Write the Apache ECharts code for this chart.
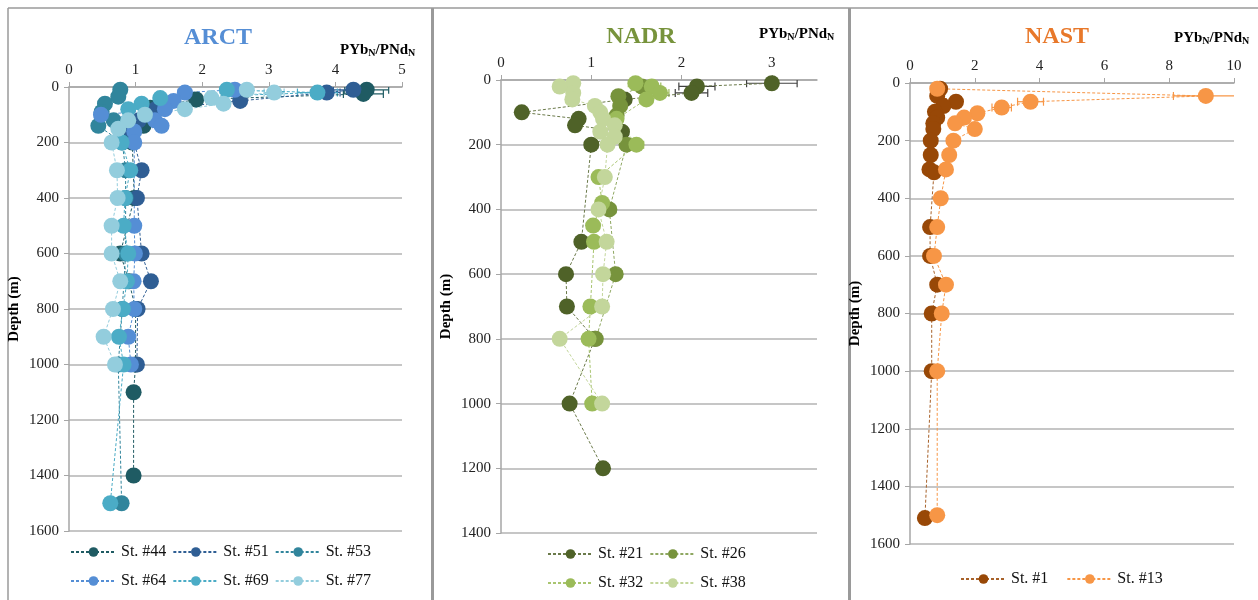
<!DOCTYPE html>
<html><head><meta charset="utf-8">
<script src="https://cdn.jsdelivr.net/npm/echarts@6/dist/echarts.min.js"></script>
<style>html,body{margin:0;padding:0;background:#fff}#c{width:1258px;height:600px}</style>
</head><body><div id="c"></div>
<script>
// ---------- ARCT ----------
const a44Depth = [10,25,45,75,140,200,400,600,700,800,1000,1100,1400];
const a44Val   = [4.47,4.42,1.91,1.22,1.12,0.95,0.98,0.77,0.9,1.0,1.0,0.97,0.97];
const a44Err   = [0.33,0.3,0.05,0,0,0,0,0,0,0,0,0,0];
const a51Depth = [10,20,50,80,120,165,300,400,600,700,800,1000];
const a51Val   = [4.27,3.87,2.57,1.3,1.05,0.94,1.09,1.02,1.09,1.23,1.03,1.02];
const a51Err   = [0.3,0.2,0,0,0,0,0,0,0,0,0,0];
const a53Depth = [10,35,60,90,120,140,200,300,400,600,800,1000,1500];
const a53Val   = [0.77,0.74,0.54,0.49,0.67,0.44,0.8,0.85,0.85,0.85,0.8,0.74,0.79];
const a53Err   = [0,0,0,0,0,0,0,0,0,0,0,0,0];
const a64Depth = [10,20,50,80,100,120,140,160,200,500,600,700,800,900,1000];
const a64Val   = [2.49,1.74,1.57,1.44,0.48,1.29,1.39,0.98,0.98,0.98,0.99,0.97,0.98,0.89,0.93];
const a64Err   = [0.15,0.1,0,0,0,0,0,0,0,0,0,0,0,0,0];
const a69Depth = [10,20,40,60,80,200,300,400,500,600,700,800,900,1000,1500];
const a69Val   = [2.37,3.73,1.37,1.09,0.89,0.79,0.92,0.84,0.82,0.89,0.87,0.81,0.75,0.82,0.62];
const a69Err   = [0.1,0.3,0,0,0,0,0,0,0,0,0,0,0,0,0];
const a77Depth = [10,20,40,60,80,100,120,150,200,300,400,500,600,700,800,900,1000];
const a77Val   = [2.67,3.08,2.14,2.32,1.74,1.14,0.89,0.74,0.64,0.72,0.73,0.64,0.64,0.77,0.66,0.52,0.69];
const a77Err   = [0.1,0.15,0,0,0,0,0,0,0,0,0,0,0,0,0,0,0];
// ---------- NADR ----------
const n21Depth = [10,20,40,60,100,120,140,160,200,500,600,700,800,1000,1200];
const n21Val   = [3.0,2.17,2.11,1.37,0.23,0.86,0.82,1.34,1.0,0.89,0.72,0.73,1.04,0.76,1.13];
const n21Err   = [0.28,0.2,0.18,0.06,0.03,0.04,0.04,0.07,0.07,0.05,0.03,0.03,0.05,0.05,0.07];
const n26Depth = [20,50,80,110,200,400,600,800];
const n26Val   = [1.56,1.3,1.32,1.28,1.39,1.2,1.27,1.05];
const n26Err   = [0.08,0.06,0.06,0.06,0.06,0.07,0.07,0.05];
const n32Depth = [10,20,40,60,120,200,300,380,450,500,700,800,1000];
const n32Val   = [1.49,1.67,1.76,1.61,1.28,1.5,1.08,1.12,1.02,1.03,0.99,0.97,1.01];
const n32Err   = [0.08,0.1,0.1,0.06,0.06,0.08,0.05,0.06,0.04,0.05,0.04,0.06,0.06];
const n38Depth = [10,20,40,60,80,100,120,140,160,175,200,300,400,500,600,700,800,1000];
const n38Val   = [0.8,0.65,0.8,0.79,1.04,1.1,1.13,1.26,1.1,1.26,1.18,1.15,1.08,1.17,1.13,1.12,0.65,1.12];
const n38Err   = [0.04,0.04,0.04,0.04,0.07,0.06,0.06,0.06,0.06,0.06,0.06,0.05,0.05,0.06,0.06,0.06,0.04,0.06];
// ---------- NAST ----------
const s1Depth  = [20,45,65,80,100,120,140,160,200,250,300,310,500,600,700,800,1000,1510];
const s1Val    = [0.93,0.84,1.42,1.03,0.77,0.84,0.72,0.72,0.64,0.64,0.6,0.74,0.62,0.62,0.84,0.67,0.67,0.46];
const s1Err    = [0,0,0,0,0,0,0,0,0,0,0,0,0,0,0,0,0,0];
const s13Depth = [20,45,65,85,105,120,140,160,200,250,300,400,500,600,700,800,1000,1500];
const s13Val   = [0.84,9.13,3.72,2.83,2.08,1.67,1.39,2.0,1.34,1.21,1.11,0.95,0.84,0.74,1.11,0.98,0.84,0.84];
const s13Err   = [0,1.0,0.4,0.3,0.15,0.1,0,0.15,0,0,0,0,0,0,0,0,0,0];

const arctNames = ['St. #44','St. #51','St. #53','St. #64','St. #69','St. #77'];
const nadrNames = ['St. #21','St. #26','St. #32','St. #38'];
const nastNames = ['St. #1','St. #13'];

const serif = 'Liberation Serif';
const stations = [
  {g:0, name:arctNames[0], d:a44Depth, v:a44Val, e:a44Err, c:'#1f5b63', lc:'#1f5b63'},
  {g:0, name:arctNames[1], d:a51Depth, v:a51Val, e:a51Err, c:'#2f5e94', lc:'#2f5e94'},
  {g:0, name:arctNames[2], d:a53Depth, v:a53Val, e:a53Err, c:'#31859c', lc:'#31859c'},
  {g:0, name:arctNames[3], d:a64Depth, v:a64Val, e:a64Err, c:'#558ed5', lc:'#558ed5'},
  {g:0, name:arctNames[4], d:a69Depth, v:a69Val, e:a69Err, c:'#4bacc6', lc:'#4bacc6'},
  {g:0, name:arctNames[5], d:a77Depth, v:a77Val, e:a77Err, c:'#93cddd', lc:'#93cddd'},
  {g:1, name:nadrNames[0], d:n21Depth, v:n21Val, e:n21Err, c:'#4f6228', lc:'#6b7a4a', ec:'#404040'},
  {g:1, name:nadrNames[1], d:n26Depth, v:n26Val, e:n26Err, c:'#77933c', lc:'#8fa862'},
  {g:1, name:nadrNames[2], d:n32Depth, v:n32Val, e:n32Err, c:'#9bbb59', lc:'#a9c570'},
  {g:1, name:nadrNames[3], d:n38Depth, v:n38Val, e:n38Err, c:'#c3d69b', lc:'#c3d69b'},
  {g:2, name:nastNames[0], d:s1Depth, v:s1Val, e:s1Err, c:'#984807', lc:'#a8622a'},
  {g:2, name:nastNames[1], d:s13Depth, v:s13Val, e:s13Err, c:'#f79646', lc:'#f79646'}
];

const grids = [
  {left:69, top:87, width:333, height:444},
  {left:501, top:80, width:316, height:453},
  {left:910, top:83, width:324, height:461}
];
const xMax = [5, 3.5, 10], xInt = [1, 1, 2], yMax = [1600, 1400, 1600];

const axisCol = '#a6a6a6';
const xAxes = grids.map((g,i)=>({
  gridIndex:i, type:'value', position:'top', min:0, max:xMax[i], interval:xInt[i],
  axisLine:{show:true, onZero:false, lineStyle:{color:axisCol, width:1.5}},
  axisTick:{show:true, length:5, lineStyle:{color:axisCol, width:1}},
  axisLabel:{fontFamily:serif, fontSize:15, color:'#222', margin:9, showMaxLabel: i!==1,
             formatter:v=>String(v)},
  splitLine:{show:false}
}));
const yAxes = grids.map((g,i)=>({
  gridIndex:i, type:'value', inverse:true, min:0, max:yMax[i], interval:200,
  axisLine:{show:true, onZero:false, lineStyle:{color:axisCol, width:1.5}},
  axisTick:{show:true, length:5, lineStyle:{color:axisCol, width:1}},
  axisLabel:{fontFamily:serif, fontSize:15, color:'#222', margin:10, formatter:v=>String(v)},
  splitLine:{show:true, lineStyle:{color:'#b3b3b3', width:1.5}},
  name:'Depth (m)', nameLocation:'middle', nameGap:47, nameRotate:90,
  nameTextStyle:{fontFamily:serif, fontWeight:'bold', fontSize:15, color:'#000'}
}));

function errSeries(st){
  const data = [];
  st.d.forEach((d,i)=>{ if(st.e[i]>0) data.push([st.v[i]-st.e[i], st.v[i]+st.e[i], d]); });
  const col = st.ec || st.c;
  return {
    type:'custom', name:'err '+st.name, xAxisIndex:st.g, yAxisIndex:st.g, clip:true, z:1, silent:true,
    encode:{x:[0,1], y:2}, data,
    renderItem(params, api){
      const y = api.value(2);
      const p1 = api.coord([api.value(0), y]);
      const p2 = api.coord([api.value(1), y]);
      const h = 4, s = {stroke:col, lineWidth:1.2};
      return {type:'group', children:[
        {type:'line', shape:{x1:p1[0],y1:p1[1],x2:p2[0],y2:p2[1]}, style:s},
        {type:'line', shape:{x1:p1[0],y1:p1[1]-h,x2:p1[0],y2:p1[1]+h}, style:s},
        {type:'line', shape:{x1:p2[0],y1:p2[1]-h,x2:p2[0],y2:p2[1]+h}, style:s}
      ]};
    }
  };
}

const series = [];
stations.forEach(st=>{
  series.push(errSeries(st));
  series.push({
    type:'line', name:st.name, xAxisIndex:st.g, yAxisIndex:st.g, z:3,
    data: st.d.map((d,i)=>[st.v[i], d]),
    symbol:'circle', symbolSize: 16,
    itemStyle:{color:st.c},
    lineStyle:{color:st.lc, width:1, type:[3,2]},
    emphasis:{disabled:true}, animation:false
  });
});

const legText = {fontFamily:serif, fontSize:16, color:'#111'};
const legBase = {orient:'horizontal', itemWidth:45, itemHeight:12, textStyle:legText, itemGap:6, selectedMode:false, padding:0};
const legends = [
  Object.assign({}, legBase, {data:arctNames.slice(0,3), left:70, top:544}),
  Object.assign({}, legBase, {data:arctNames.slice(3), left:70, top:573}),
  Object.assign({}, legBase, {data:nadrNames.slice(0,2), left:547, top:546}),
  Object.assign({}, legBase, {data:nadrNames.slice(2), left:547, top:575}),
  Object.assign({}, legBase, {data:nastNames, left:960, top:571, itemGap:18})
];

const rich = {
  b:{fontFamily:serif, fontWeight:'bold', fontSize:15, color:'#000'},
  s:{fontFamily:serif, fontWeight:'bold', fontSize:10, color:'#000', verticalAlign:'bottom', padding:[6,0,0,0]}
};
function axTitle(x,y){
  return {type:'text', left:x, top:y, style:{text:'{b|PYb}{s|N}{b|/PNd}{s|N}', rich}};
}
function panelTitle(x,y,t,c){
  return {type:'text', x:x, y:y, style:{text:t, fill:c, font:'bold 24px "Liberation Serif"', textAlign:'center', textVerticalAlign:'middle'}};
}
const graphics = [
  {type:'line', shape:{x1:8,y1:8,x2:1258,y2:8}, style:{stroke:'#9a9a9a', lineWidth:1.5}},
  {type:'line', shape:{x1:8,y1:8,x2:8,y2:600}, style:{stroke:'#9a9a9a', lineWidth:1.5}},
  {type:'rect', shape:{x:431,y:8,width:3,height:592}, style:{fill:'#9a9a9a'}},
  {type:'rect', shape:{x:848,y:8,width:3,height:592}, style:{fill:'#9a9a9a'}},
  panelTitle(218,38,'ARCT','#558ed5'),
  panelTitle(641,37,'NADR','#77933c'),
  panelTitle(1057,37,'NAST','#e8782a'),
  axTitle(340,43),
  axTitle(759,27),
  axTitle(1174,31)
];

const chart = echarts.init(document.getElementById('c'), null, {renderer:'canvas'});
chart.setOption({
  animation:false,
  backgroundColor:'#fff',
  grid:grids, xAxis:xAxes, yAxis:yAxes, series, legend:legends, graphic:graphics
});
</script></body></html>
